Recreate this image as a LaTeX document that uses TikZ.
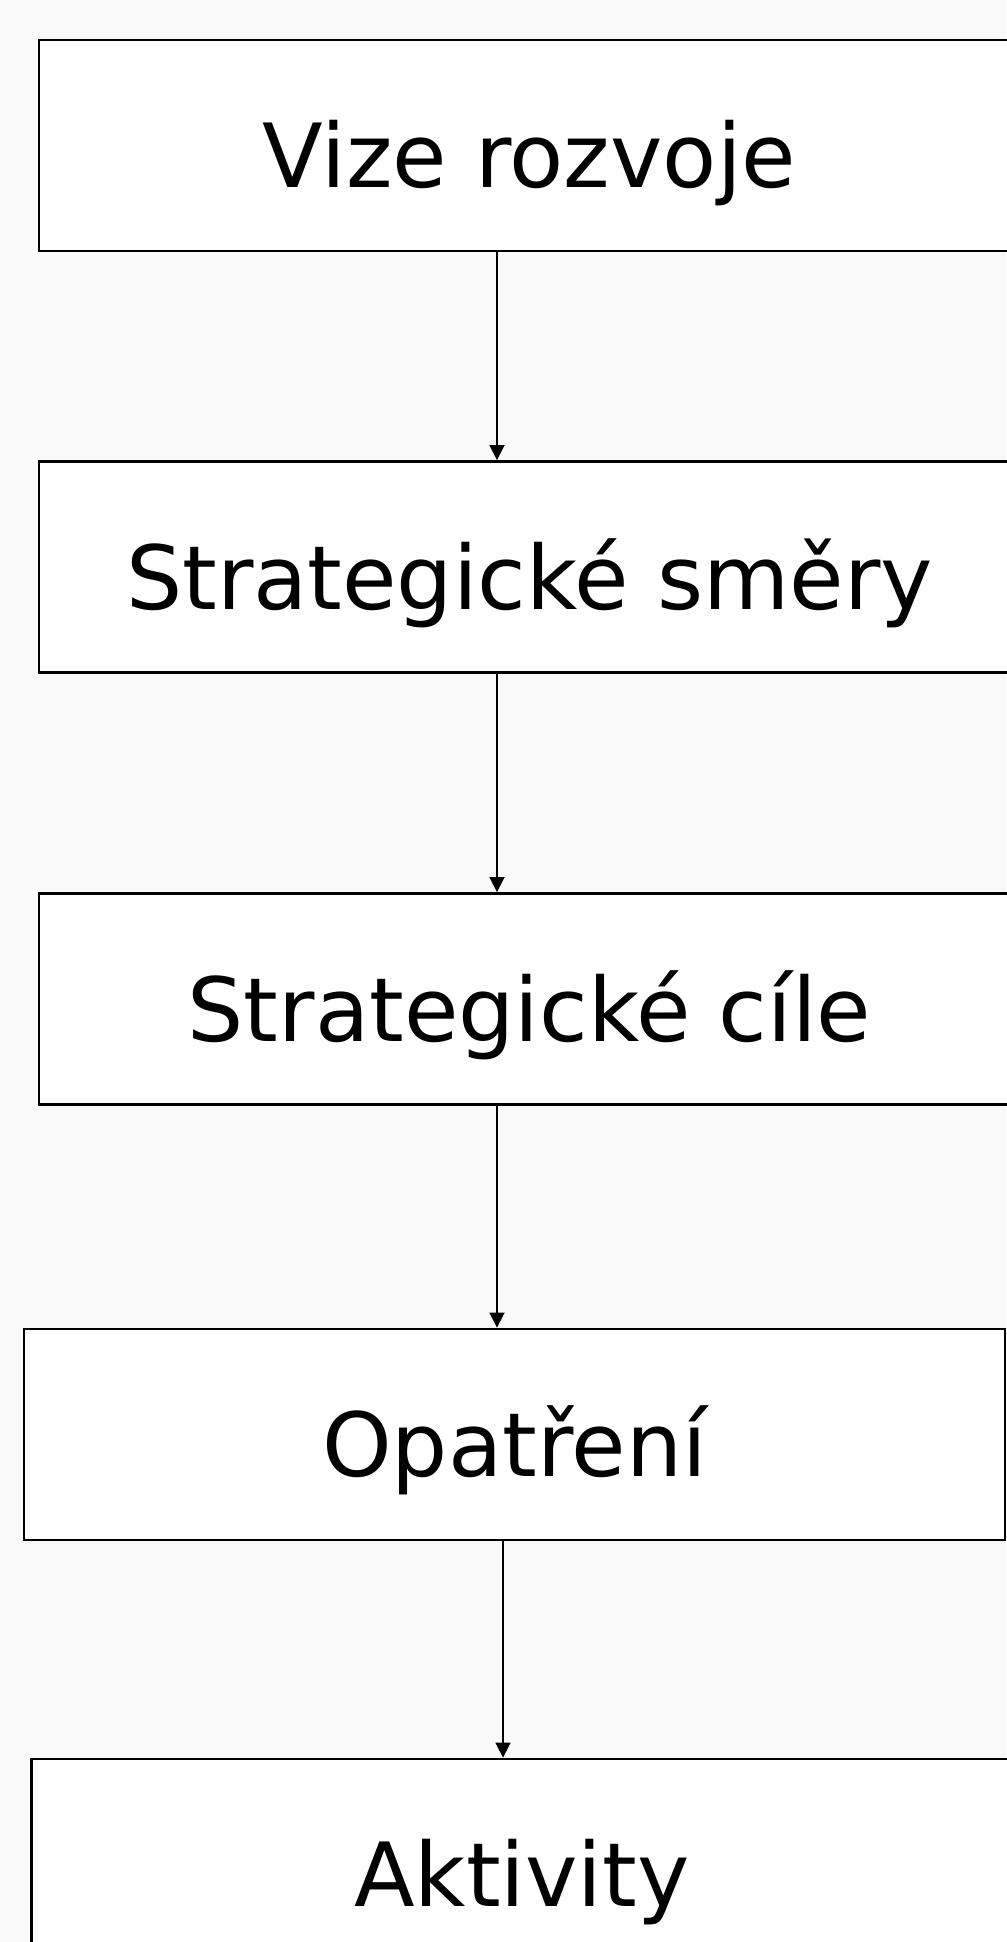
\documentclass[tikz,border=0pt]{standalone}
\usepackage{fontspec}
\setmainfont{DejaVu Sans}
\usepackage{xcolor}
\usetikzlibrary{arrows.meta}
\definecolor{bgchk}{RGB}{249,249,249}

\begin{document}
\begin{tikzpicture}[
	stepbox/.style={draw, line width=0.8pt, fill=white, inner sep=0pt,
		minimum width=9.81cm, minimum height=2.11cm,
		text height=1.14cm, text depth=0.3cm,
		font=\fontsize{25.2}{30}\selectfont},
	arr/.style={line width=0.45pt, -{Triangle[width=0.15cm,length=0.15cm]}}]
		\fill[bgchk](0,0)rectangle(10.06,-19.42);
		\useasboundingbox(0,0)rectangle(10.06,-19.42);
		\node[stepbox](vize) at(5.295,-1.455){Vize rozvoje};
		\node[stepbox](smery) at(5.295,-5.67){Strategické směry};
		\node[stepbox](cile) at(5.295,-9.99){Strategické cíle};
		\node[stepbox](opatreni) at(5.145,-14.345){Opatření};
		\node[stepbox](aktivity) at(5.22,-18.645){Aktivity};
		\draw[arr]([xshift=-3.25mm]vize.south)coordinate(v1)--(v1|-smery.north);
		\draw[arr]([xshift=-3.25mm]smery.south)coordinate(v2)--(v2|-cile.north);
		\draw[arr]([xshift=-3.25mm]cile.south)coordinate(v3)--(v3|-opatreni.north);
		\draw[arr]([xshift=-1.15mm]opatreni.south)coordinate(v4)--(v4|-aktivity.north);
		\end{tikzpicture}
\end{document}
